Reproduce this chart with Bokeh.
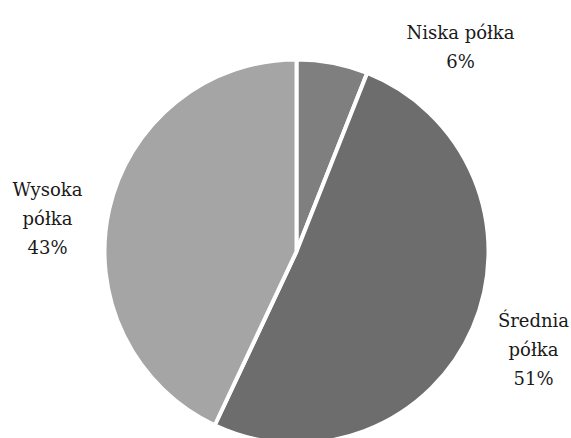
import math
from bokeh.plotting import figure
from bokeh.models import Range1d, ColumnDataSource
from bokeh.core.properties import value
from bokeh.embed import file_html
from bokeh.resources import INLINE

# data
categories = ["Niska półka", "Średnia półka", "Wysoka półka"]
shares = [6, 51, 43]
colors = ["#7f7f7f", "#6d6d6d", "#a5a5a5"]
label_lines = [["Niska półka", "6%"], ["Średnia", "półka", "51%"], ["Wysoka", "półka", "43%"]]

# layout (picture pixel coordinates)
W, H = 571, 438
cx, cy_img, r = 296, 251, 192
label_pos = [(460, 32), (533, 320), (47, 189)]  # center x, first baseline y
line_gap = 29

def py(y_img):
    return H - y_img

p = figure(width=W, height=H, output_backend="svg", toolbar_location=None,
           x_range=Range1d(0, W), y_range=Range1d(0, H),
           min_border=0)
p.axis.visible = False
p.grid.visible = False
p.outline_line_color = None
p.background_fill_color = "white"
p.border_fill_color = "white"

total = sum(shares)
starts, ends = [], []
c = 0
for s in shares:
    starts.append(math.pi / 2 - 2 * math.pi * c / total)
    c += s
    ends.append(math.pi / 2 - 2 * math.pi * c / total)

src = ColumnDataSource(dict(x=[cx] * 3, y=[py(cy_img)] * 3, start=starts, end=ends,
                            color=colors, cat=categories))
p.wedge(x="x", y="y", radius=r, start_angle="start", end_angle="end", direction="clock",
        fill_color="color", line_color="white", line_width=4, source=src)

tx, ty, tt = [], [], []
for (lx, ly), lines in zip(label_pos, label_lines):
    for i, t in enumerate(lines):
        tx.append(lx)
        ty.append(py(ly + i * line_gap))
        tt.append(t)
p.text(x=tx, y=ty, text=tt, text_align="center", text_baseline="alphabetic",
       text_font=value("DejaVu Serif"), text_font_size="18px", text_color="#1a1a1a")

open("out.html", "w").write(file_html(p, INLINE))
